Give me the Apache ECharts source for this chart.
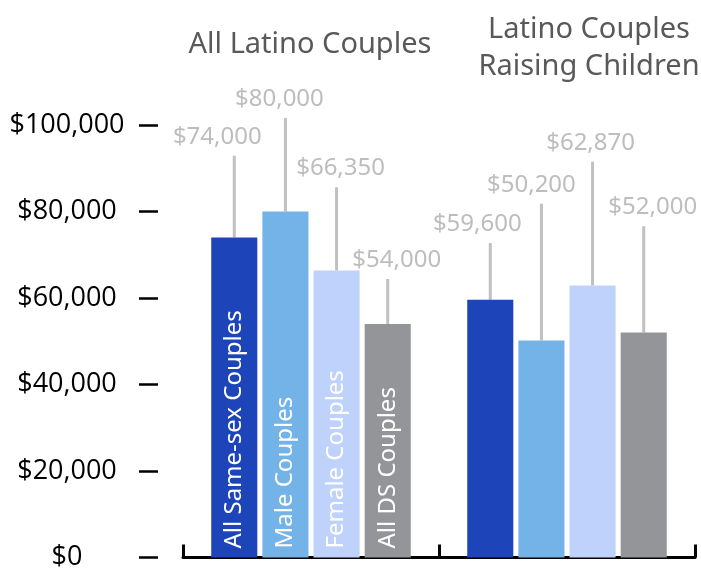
<!DOCTYPE html>
<html>
<head>
<meta charset="utf-8">
<script src="https://cdn.jsdelivr.net/npm/echarts@6/dist/echarts.min.js"></script>
<style>
html,body{margin:0;padding:0;background:#fff;}
#chart{width:701px;height:571px;}
</style>
</head>
<body>
<div id="chart"></div>
<script>
// ---- data ----
const categories = ['All Latino Couples', 'Latino Couples\nRaising Children'];
const seriesNames = ['All Same-sex Couples', 'Male Couples', 'Female Couples', 'All DS Couples'];
const allSameSexValues = [74000, 59600];
const maleValues = [80000, 50200];
const femaleValues = [66350, 62870];
const allDSValues = [54000, 52000];
const allSameSexUpper = [92900, 72700];
const maleUpper = [101600, 81800];
const femaleUpper = [85600, 91500];
const allDSUpper = [64400, 76600];
const yMin = 0, yMax = 100000, yStep = 20000;

// ---- style ----
const colors = ['#1d44b8', '#74b3e8', '#bfd2fc', '#949598'];
const labelNudge = [[-17, -13], [-6, -10], [4, -2], [9, 9]];
const BAR_W = 0.18, BAR_GAP = 0.11;

const valueSets = [allSameSexValues, maleValues, femaleValues, allDSValues];
const upperSets = [allSameSexUpper, maleUpper, femaleUpper, allDSUpper];

const fmt = v => '$' + v.toLocaleString('en-US');

const chart = echarts.init(document.getElementById('chart'), null, {renderer: 'canvas'});

const series = [];
seriesNames.forEach((name, i) => {
  series.push({
    type: 'bar',
    name: name,
    data: valueSets[i],
    barWidth: (BAR_W * 100) + '%',
    barGap: (BAR_GAP * 100) + '%',
    itemStyle: {color: colors[i]},
    z: 3,
    label: {
      show: true,
      position: 'insideBottom',
      rotate: 90,
      align: 'left',
      verticalAlign: 'middle',
      distance: 9,
      color: '#ffffff',
      fontSize: 24,
      fontFamily: 'Noto Sans',
      formatter: p => p.dataIndex === 0 ? name : ''
    }
  });
});

seriesNames.forEach((name, i) => {
  series.push({
    type: 'custom',
    name: name + ' range',
    z: 2,
    clip: false,
    data: valueSets[i].map((v, k) => [k, v, upperSets[i][k]]),
    renderItem: (params, api) => {
      const cat = api.value(0);
      const band = api.size([1, 0])[0];
      const bw = band * BAR_W;
      const step = bw * (1 + BAR_GAP);
      const x = api.coord([cat, 0])[0] + (i - 1.5) * step;
      const yTop = api.coord([cat, api.value(2)])[1];
      const yBar = api.coord([cat, api.value(1)])[1];
      return {
        type: 'group',
        children: [
          {type: 'line', shape: {x1: x, y1: yBar, x2: x, y2: yTop},
           style: {stroke: '#c0c0c0', lineWidth: 3}},
          {type: 'text', x: x + labelNudge[i][cat], y: yTop - 7,
           style: {text: fmt(api.value(1)), fill: '#bdbdbd', font: '24px "Noto Sans"',
                   textAlign: 'center', textVerticalAlign: 'bottom'}}
        ]
      };
    }
  });
});

chart.setOption({
  animation: false,
  backgroundColor: '#ffffff',
  title: [
    {text: categories[0], left: 305, top: 25, textAlign: 'center',
     textStyle: {fontFamily: 'Noto Sans', fontSize: 29, fontWeight: 'normal', color: '#595959'}},
    {text: categories[1], left: 584, top: 6, textAlign: 'center',
     textStyle: {fontFamily: 'Noto Sans', fontSize: 29, fontWeight: 'normal', color: '#595959', lineHeight: 37}}
  ],
  grid: {left: 183, right: 6, top: 125, bottom: 12, containLabel: false},
  xAxis: {
    type: 'category',
    data: categories,
    axisLine: {show: true, lineStyle: {color: '#000', width: 3}},
    axisTick: {show: true, inside: true, length: 13, interval: 0, lineStyle: {color: '#000', width: 3}},
    axisLabel: {show: false},
    splitLine: {show: false}
  },
  yAxis: {
    type: 'value',
    min: yMin, max: yMax, interval: yStep,
    offset: 25,
    axisLine: {show: false},
    axisTick: {show: true, length: 19, lineStyle: {color: '#000', width: 2.5}},
    axisLabel: {
      margin: 91, align: 'center', color: '#000', fontSize: 27, fontFamily: 'Open Sans',
      formatter: v => fmt(v)
    },
    splitLine: {show: false}
  },
  series: series
});
</script>
</body>
</html>
